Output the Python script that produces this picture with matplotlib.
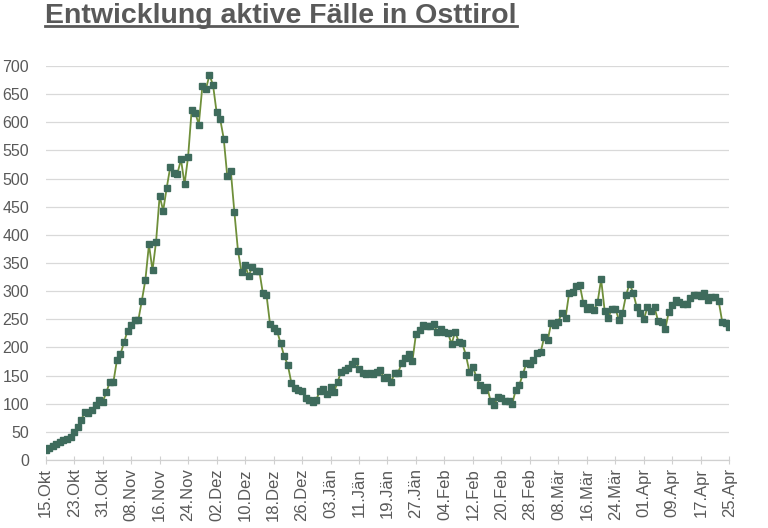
import matplotlib
matplotlib.use("Agg")
import matplotlib.pyplot as plt
from matplotlib.lines import Line2D

values = [
    18, 22, 25, 29, 32, 35, 37, 40, 49, 59,
    71, 86, 84, 89, 97, 107, 103, 120, 138, 138,
    177, 188, 209, 230, 240, 248, 248, 283, 320, 383,
    337, 388, 469, 443, 484, 521, 510, 509, 534, 490,
    539, 622, 617, 596, 664, 659, 684, 666, 618, 606,
    571, 504, 513, 440, 372, 334, 346, 327, 343, 336,
    336, 296, 294, 242, 234, 229, 207, 184, 169, 137,
    128, 124, 123, 111, 107, 103, 107, 123, 127, 117,
    129, 121, 139, 157, 160, 163, 170, 176, 162, 155,
    153, 155, 153, 157, 160, 145, 147, 139, 154, 155,
    173, 182, 188, 176, 224, 231, 240, 238, 238, 241,
    227, 232, 228, 225, 206, 228, 210, 207, 187, 157,
    165, 147, 133, 124, 129, 104, 98, 112, 110, 105,
    104, 99, 124, 133, 152, 172, 170, 178, 190, 191,
    218, 213, 244, 240, 246, 262, 252, 296, 298, 310,
    311, 279, 268, 272, 266, 280, 321, 265, 252, 269,
    269, 249, 261, 293, 313, 297, 272, 261, 250, 271,
    265, 271, 247, 245, 232, 263, 275, 284, 281, 278,
    277, 287, 294, 294, 291, 296, 284, 290, 290, 283,
    246, 244, 237,
]

tick_labels = [
    "15.Okt", "23.Okt", "31.Okt", "08.Nov", "16.Nov", "24.Nov", "02.Dez",
    "10.Dez", "18.Dez", "26.Dez", "03.Jän", "11.Jän", "19.Jän", "27.Jän",
    "04.Feb", "12.Feb", "20.Feb", "28.Feb", "08.Mär", "16.Mär", "24.Mär",
    "01.Apr", "09.Apr", "17.Apr", "25.Apr",
]
tick_step = 8
y_ticks = list(range(0, 701, 50))
title = "Entwicklung aktive Fälle in Osttirol"

plt.rcParams["font.family"] = ["Liberation Sans", "DejaVu Sans"]

fig = plt.figure(figsize=(7.68, 5.28), dpi=100)
ax = fig.add_axes([0.0595, 0.1288, 0.8901, 0.7462])

days = list(range(len(values)))
ax.plot(days, values, color="#6f8f3a", linewidth=1.3, zorder=2)
ax.plot(days, values, linestyle="none", marker="s", markersize=4.2,
        markerfacecolor="#3e6b5c", markeredgecolor="#3e6b5c", zorder=3)

ax.set_xlim(0, len(values) - 1)
ax.set_ylim(0, 700)
ax.set_yticks(y_ticks)
ax.set_yticklabels([str(v) for v in y_ticks], fontsize=11.5, color="#595959")
ax.set_xticks([i * tick_step for i in range(len(tick_labels))])
ax.set_xticklabels(tick_labels, rotation=90, fontsize=12, color="#595959")

ax.grid(axis="y", color="#d9d9d9", linewidth=0.9)
ax.set_axisbelow(True)
for s in ["top", "right", "left"]:
    ax.spines[s].set_visible(False)
ax.spines["bottom"].set_color("#d0d0d0")
ax.spines["bottom"].set_linewidth(0.9)
ax.tick_params(axis="y", length=0, pad=12)
ax.tick_params(axis="x", direction="inout", length=6, color="#d0d0d0", pad=3)

t = fig.text(0.059, 0.957, title, fontsize=20.5, fontweight="bold",
             color="#595959", ha="left", va="baseline")
fig.canvas.draw()
bb = t.get_window_extent(renderer=fig.canvas.get_renderer())
W, H = fig.bbox.width, fig.bbox.height
uy = 1 - 25.5 / 528
fig.add_artist(Line2D([bb.x0 / W, bb.x1 / W], [uy, uy], color="#595959",
                      linewidth=2.0, transform=fig.transFigure))

fig.savefig("out.png", dpi=100)
